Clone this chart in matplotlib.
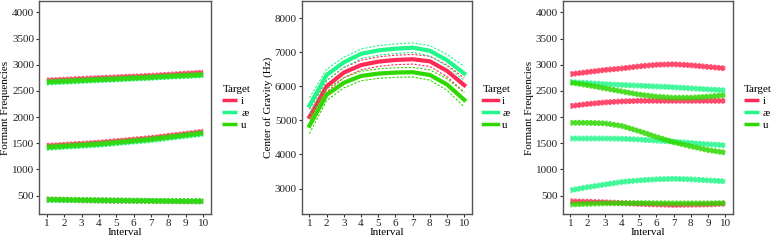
import matplotlib.pyplot as plt
import numpy as np

plt.rcParams['font.family'] = ['Liberation Serif', 'DejaVu Serif']

interval = np.arange(1, 11)
targets = ['i', 'æ', 'u']
colors = {'i': '#ff2a55', 'æ': '#22f78a', 'u': '#2ed800'}

# panel 1: formants (F1, F2, F3)
p1_i = [[420, 415, 410, 405, 400, 398, 395, 392, 390, 390],
        [1450, 1470, 1490, 1510, 1540, 1570, 1600, 1640, 1680, 1720],
        [2700, 2715, 2730, 2745, 2760, 2775, 2790, 2810, 2830, 2850]]
p1_ae = [[415, 412, 410, 405, 402, 400, 398, 395, 392, 390],
         [1410, 1430, 1450, 1470, 1500, 1530, 1560, 1600, 1640, 1680],
         [2660, 2675, 2690, 2705, 2720, 2735, 2750, 2770, 2785, 2800]]
p1_u = [[425, 420, 415, 410, 405, 400, 397, 394, 392, 390],
        [1425, 1445, 1465, 1485, 1515, 1545, 1575, 1615, 1655, 1695],
        [2670, 2685, 2700, 2715, 2730, 2745, 2760, 2780, 2795, 2810]]

# panel 2: center of gravity
cog_i = [5100, 6000, 6400, 6620, 6720, 6770, 6790, 6730, 6450, 6030]
cog_ae = [5430, 6330, 6700, 6950, 7050, 7100, 7130, 7040, 6760, 6370]
cog_u = [4840, 5750, 6100, 6300, 6370, 6400, 6410, 6330, 6050, 5600]
cog_ci = [230, 170, 150, 140, 140, 140, 140, 150, 170, 210]

# panel 3: formants (F1, F2, F3)
p3_i = [[390, 380, 370, 355, 340, 330, 320, 325, 330, 345],
        [2210, 2250, 2280, 2300, 2310, 2310, 2310, 2310, 2310, 2310],
        [2820, 2860, 2900, 2930, 2970, 3000, 3010, 2990, 2960, 2930]]
p3_ae = [[600, 660, 710, 760, 790, 810, 820, 810, 790, 770],
         [1590, 1590, 1590, 1585, 1570, 1550, 1530, 1505, 1480, 1460],
         [2670, 2650, 2630, 2615, 2600, 2585, 2570, 2550, 2530, 2510]]
p3_u = [[330, 340, 350, 352, 355, 352, 350, 350, 350, 355],
        [1890, 1890, 1880, 1830, 1730, 1620, 1520, 1440, 1370, 1320],
        [2660, 2610, 2550, 2490, 2430, 2390, 2370, 2370, 2390, 2420]]

fig = plt.figure(figsize=(7.74, 2.4), dpi=100)
ax1 = fig.add_axes([0.0504, 0.108, 0.2222, 0.888])
ax2 = fig.add_axes([0.3898, 0.108, 0.2200, 0.888])
ax3 = fig.add_axes([0.7270, 0.108, 0.2200, 0.888])


def draw_formants(ax, data, ci=45):
    for t, tracks in zip(targets, data):
        for k, f in enumerate(tracks):
            f = np.array(f)
            ax.plot(interval, f, color=colors[t], lw=3.0, alpha=0.85,
                    solid_capstyle='butt', label=t if k == 0 else None)
            for s in (-1, 1):
                ax.plot(interval, f + s * ci, color=colors[t], lw=0.8,
                        ls=(0, (2, 1.5)), alpha=0.8)
    ax.set_ylim(145, 4220)
    ax.set_yticks([500, 1000, 1500, 2000, 2500, 3000, 3500, 4000])
    ax.set_ylabel('Formant Frequencies', fontsize=8, labelpad=1.5)


def style(ax):
    ax.set_xlim(0.55, 10.45)
    ax.set_xticks(interval)
    ax.set_xlabel('Interval', fontsize=8, labelpad=0)
    ax.tick_params(labelsize=8, length=2.5, width=0.8, pad=1,
                   colors='#333333', labelcolor='#222222')
    for sp in ax.spines.values():
        sp.set_color('#555555')
        sp.set_linewidth(1.0)
    leg = ax.legend(title='Target', loc='center left', bbox_to_anchor=(1.04, 0.5),
                    borderaxespad=0, frameon=False, fontsize=8, title_fontsize=8,
                    handlelength=1.3, handletextpad=0.4, labelspacing=0.2)
    leg._legend_box.align = 'left'
    for h in leg.get_lines():
        h.set_linewidth(2.5)
        h.set_alpha(1)


draw_formants(ax1, [p1_i, p1_ae, p1_u])
draw_formants(ax3, [p3_i, p3_ae, p3_u])

for t, c in zip(targets, [cog_i, cog_ae, cog_u]):
    c = np.array(c)
    ax2.plot(interval, c, color=colors[t], lw=3, label=t)
    for s in (-1, 1):
        ax2.plot(interval, c + s * np.array(cog_ci), color=colors[t], lw=0.8,
                 ls=(0, (2, 1.5)))
ax2.set_ylim(2250, 8500)
ax2.set_yticks([3000, 4000, 5000, 6000, 7000, 8000])
ax2.set_ylabel('Center of Gravity (Hz)', fontsize=8, labelpad=1.5)

for ax in (ax1, ax2, ax3):
    style(ax)

fig.savefig('out.png', dpi=100)
